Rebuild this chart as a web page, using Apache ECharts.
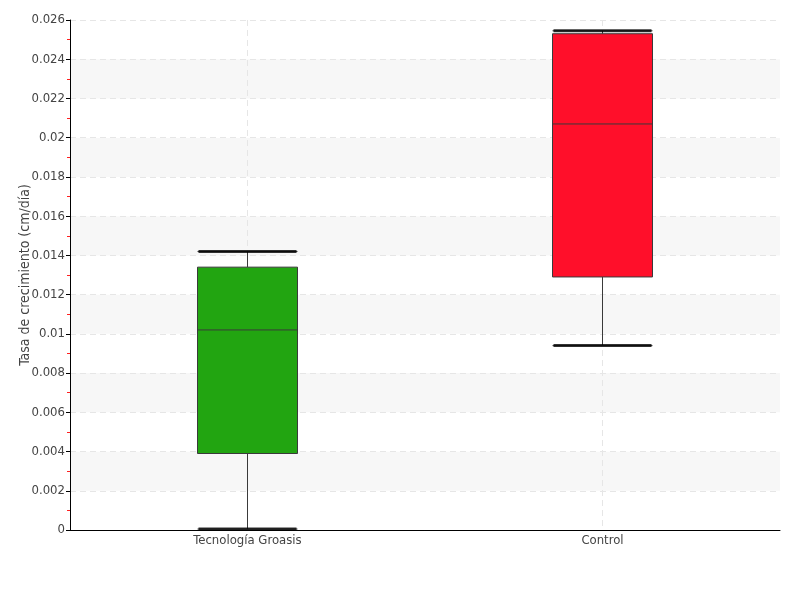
<!DOCTYPE html>
<html><head><meta charset="utf-8">
<script src="https://cdn.jsdelivr.net/npm/echarts@6/dist/echarts.min.js"></script>
<style>html,body{margin:0;padding:0;background:#fff}#c{width:800px;height:600px}</style>
</head><body><div id="c"></div>
<script>
var categories = ['Tecnología Groasis', 'Control'];
// [min, Q1, median, Q3, max]
var boxValues = [
  [0.00005, 0.0039, 0.0102, 0.0134, 0.0142],
  [0.0094, 0.0129, 0.0207, 0.0253, 0.02545]
];
var boxColors = ['#22a511', '#ff0f2a'];
var yAxisName = 'Tasa de crecimiento (cm/día)';
var FONT = '"DejaVu Sans Condensed", "Roboto", sans-serif';

var capData = [];
boxValues.forEach(function (v, i) { capData.push([i, v[0]]); capData.push([i, v[4]]); });

var chart = echarts.init(document.getElementById('c'), null, {renderer: 'canvas'});
chart.setOption({
  animation: false,
  backgroundColor: '#fff',
  grid: {left: 70, right: 20, top: 20, bottom: 70},
  xAxis: [{
    type: 'category',
    data: categories,
    boundaryGap: true,
    axisLine: {lineStyle: {color: '#000', width: 1}},
    axisTick: {show: false},
    axisLabel: {color: '#444', fontFamily: FONT, fontSize: 13, margin: 4},
    splitLine: {show: false}
  }, {
    type: 'category',
    data: ['', 'a', '', 'b', ''],
    boundaryGap: false,
    position: 'bottom',
    axisLine: {show: false},
    axisTick: {show: false},
    axisLabel: {show: false},
    splitLine: {show: true, interval: function (i) { return i === 1 || i === 3; },
      lineStyle: {color: '#e6e6e6', type: [6, 4]}}
  }],
  yAxis: {
    type: 'value',
    min: 0, max: 0.026, interval: 0.002,
    name: yAxisName,
    nameLocation: 'middle',
    nameGap: 38,
    nameMoveOverlap: false,
    nameTextStyle: {color: '#444', fontFamily: FONT, fontSize: 14},
    axisLine: {show: true, lineStyle: {color: '#000', width: 1}},
    axisTick: {show: true, length: 4, lineStyle: {color: '#000'}},
    minorTick: {show: true, splitNumber: 2, length: 3, lineStyle: {color: '#ff2020'}},
    axisLabel: {color: '#444', fontFamily: FONT, fontSize: 13, margin: 5},
    splitLine: {show: true, lineStyle: {color: '#e6e6e6', type: [6, 4]}},
    splitArea: {show: true, areaStyle: {color: ['#ffffff', '#f7f7f7']}}
  },
  series: [{
    type: 'boxplot',
    xAxisIndex: 0,
    boxWidth: [100, 100],
    data: boxValues.map(function (v, i) {
      return {value: v, itemStyle: {color: boxColors[i], borderColor: '#3a3a3a', borderWidth: 1}};
    }),
    itemStyle: {borderColor: '#3a3a3a', borderWidth: 1}
  }, {
    type: 'scatter',
    xAxisIndex: 0,
    symbol: 'rect',
    symbolSize: [98, 3],
    z: 5,
    itemStyle: {color: '#000'},
    silent: true,
    data: capData
  }]
});
</script></body></html>
